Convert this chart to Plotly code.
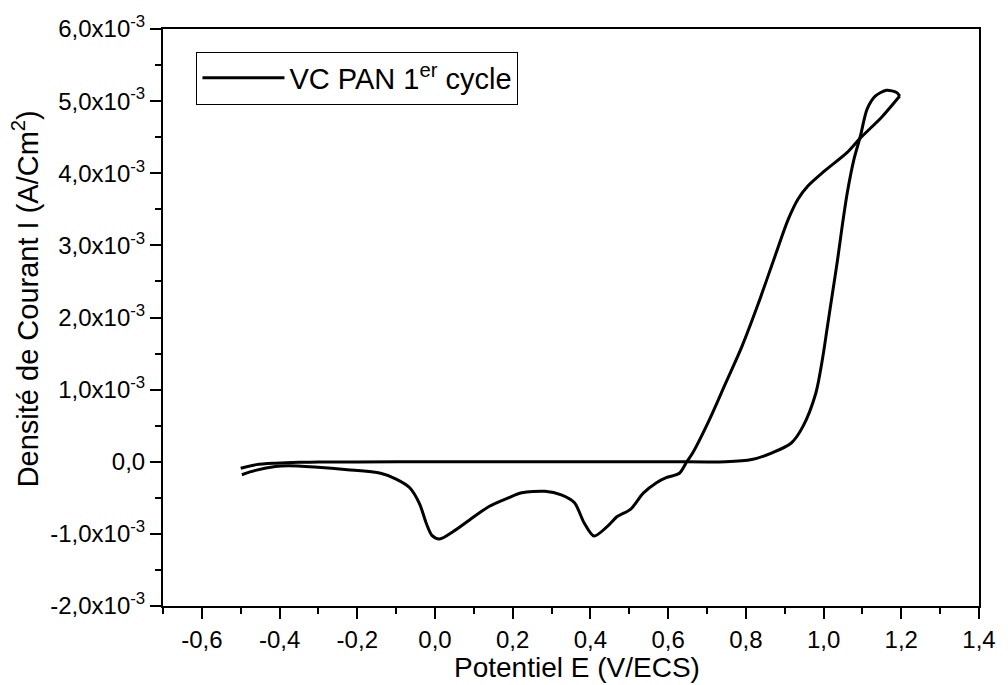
import plotly.graph_objects as go

# Forward (anodic) scan: potential (V/ECS) and current density (x1e-3 A/cm2)
E_fwd = [-0.50, -0.46, -0.41, -0.35, -0.30, -0.20, 0.00, 0.20, 0.40, 0.60, 0.748,
         0.815, 0.866, 0.917, 0.947, 0.980, 0.997, 1.010, 1.023, 1.036, 1.048,
         1.061, 1.078, 1.095, 1.112, 1.133, 1.162, 1.188, 1.196]
I_fwd_m = [-0.09, -0.04, -0.02, -0.008, -0.004, -0.002, 0.0, 0.0, 0.0, 0.0, 0.0,
           0.03, 0.12, 0.26, 0.49, 0.95, 1.42, 1.88, 2.34, 2.80, 3.27,
           3.73, 4.19, 4.52, 4.89, 5.07, 5.15, 5.12, 5.07]

# Reverse (cathodic) scan
E_rev = [1.196, 1.15, 1.095, 1.061, 1.002, 0.959, 0.934, 0.909, 0.875, 0.8325,
         0.79, 0.748, 0.706, 0.663, 0.648, 0.629, 0.595, 0.570, 0.536, 0.503,
         0.469, 0.443, 0.409, 0.384, 0.359, 0.325, 0.283, 0.223, 0.189, 0.139,
         0.088, 0.046, 0.012, -0.008, -0.022, -0.040, -0.065, -0.10, -0.14,
         -0.225, -0.31, -0.377, -0.411, -0.462, -0.497]
I_rev_m = [5.07, 4.78, 4.49, 4.29, 4.03, 3.82, 3.64, 3.36, 2.85, 2.20,
           1.60, 1.09, 0.58, 0.12, 0.0, -0.16, -0.22, -0.29, -0.435, -0.66,
           -0.76, -0.90, -1.03, -0.85, -0.57, -0.46, -0.41, -0.43, -0.50, -0.62,
           -0.81, -0.97, -1.07, -1.02, -0.86, -0.58, -0.36, -0.24, -0.16,
           -0.11, -0.074, -0.056, -0.065, -0.12, -0.18]

I_fwd = [v * 1e-3 for v in I_fwd_m]
I_rev = [v * 1e-3 for v in I_rev_m]

x_ticks = [-0.6, -0.4, -0.2, 0.0, 0.2, 0.4, 0.6, 0.8, 1.0, 1.2, 1.4]
x_ticktext = ["-0,6", "-0,4", "-0,2", "0,0", "0,2", "0,4", "0,6", "0,8", "1,0", "1,2", "1,4"]
y_ticks = [-2e-3, -1e-3, 0.0, 1e-3, 2e-3, 3e-3, 4e-3, 5e-3, 6e-3]
y_ticktext = ["-2,0x10<sup>-3</sup>", "-1,0x10<sup>-3</sup>", "0,0",
              "1,0x10<sup>-3</sup>", "2,0x10<sup>-3</sup>", "3,0x10<sup>-3</sup>",
              "4,0x10<sup>-3</sup>", "5,0x10<sup>-3</sup>", "6,0x10<sup>-3</sup>"]

FONT = "Liberation Sans, Arial, sans-serif"
line_style = dict(color="black", width=3, shape="spline", smoothing=0.8)

fig = go.Figure()
fig.add_trace(go.Scatter(x=E_fwd, y=I_fwd, mode="lines", line=line_style,
                         name="VC PAN 1<sup>er</sup> cycle", legendgroup="cv"))
fig.add_trace(go.Scatter(x=E_rev, y=I_rev, mode="lines", line=line_style,
                         name="VC PAN 1<sup>er</sup> cycle", legendgroup="cv",
                         showlegend=False))

axis_common = dict(
    showline=True, linecolor="black", linewidth=2, mirror=True,
    ticks="outside", ticklen=11, tickwidth=2, tickcolor="black",
    showgrid=False, zeroline=False,
    tickfont=dict(family=FONT, size=24, color="black"),
)

fig.update_xaxes(range=[-0.7, 1.4], tickvals=x_ticks, ticktext=x_ticktext,
                 minor=dict(dtick=0.1, tick0=0, ticks="outside", ticklen=6,
                            tickwidth=2, tickcolor="black"),
                 **axis_common)
fig.update_yaxes(range=[-2e-3, 6e-3], tickvals=y_ticks, ticktext=y_ticktext,
                 minor=dict(dtick=0.5e-3, tick0=0, ticks="outside", ticklen=6,
                            tickwidth=2, tickcolor="black"),
                 **axis_common)

# axis titles placed like the reference
fig.add_annotation(text="Potentiel E (V/ECS)",
                   xref="paper", yref="paper", x=0.507, y=-0.107,
                   xanchor="center", yanchor="middle", showarrow=False,
                   font=dict(family=FONT, size=28, color="black"))
fig.add_annotation(text="Densité de Courant I (A/Cm<sup>2</sup>)",
                   textangle=-90, xref="paper", yref="paper",
                   x=-0.168, y=0.533, xanchor="center", yanchor="middle",
                   showarrow=False,
                   font=dict(family=FONT, size=29, color="black"))

fig.update_layout(
    width=1008, height=685,
    margin=dict(l=163, r=20, t=29, b=79),
    paper_bgcolor="white", plot_bgcolor="white",
    font=dict(family=FONT, color="black"),
    legend=dict(x=0.041, y=0.961, xanchor="left", yanchor="top",
                bordercolor="black", borderwidth=1, bgcolor="white",
                itemwidth=82,
                font=dict(family=FONT, size=29, color="black")),
    showlegend=True,
)

fig.write_html("out.html")
